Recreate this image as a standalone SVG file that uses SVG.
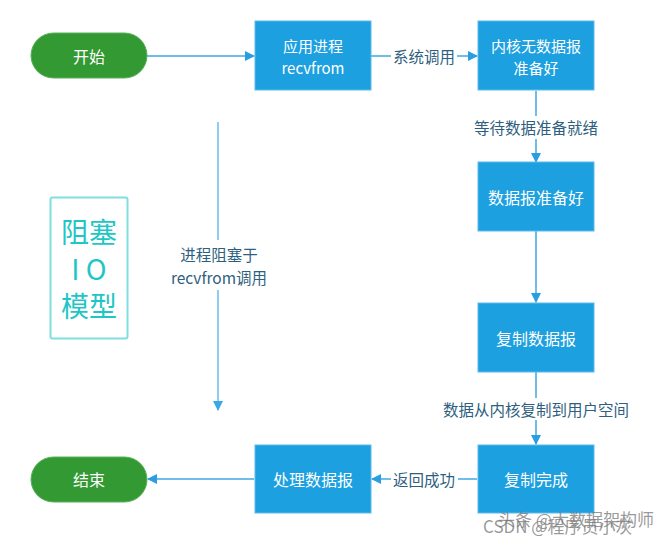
<svg xmlns="http://www.w3.org/2000/svg" width="671" height="541" viewBox="0 0 671 541">
<defs>
<style>
.box{fill:#1ca0e0;stroke:#5cbbea;stroke-width:1}
.pill{fill:#339933;stroke:#5ab25a;stroke-width:1}
.bt{font-family:"Noto Sans CJK SC","Open Sans",sans-serif;font-size:16px;fill:#ffffff;text-anchor:middle;dominant-baseline:central}
.bt2{font-family:"Noto Sans CJK SC","Open Sans",sans-serif;font-size:15px;fill:#ffffff;text-anchor:middle;dominant-baseline:central}
.lbl{font-family:"Noto Sans CJK SC","Open Sans",sans-serif;font-size:15.5px;fill:#2f5f80;text-anchor:middle;dominant-baseline:central}
.tt{font-family:"Noto Sans CJK SC",sans-serif;font-size:28px;fill:#1fc6c6;text-anchor:middle;dominant-baseline:central}
.ln{stroke:#3ea8e2;stroke-width:1.5;fill:none}
.ln2{stroke:#8ccdf0;stroke-width:2;fill:none}
</style>
<marker id="ah" viewBox="0 0 10 10" refX="9" refY="5" markerWidth="10" markerHeight="10" markerUnits="userSpaceOnUse" orient="auto">
<path d="M0,0 L10,5 L0,10 z" fill="#2a9ee0"/>
</marker>
<marker id="ah2" viewBox="0 0 10 10" refX="9" refY="5" markerWidth="10" markerHeight="12" markerUnits="userSpaceOnUse" orient="auto">
<path d="M0,0 L10,5 L0,10 z" fill="#3aa7e6"/>
</marker>
</defs>
<rect width="671" height="541" fill="#ffffff"/>
<g id="connectors">
<line class="ln" x1="147" y1="56" x2="254" y2="56" marker-end="url(#ah)"/>
<line class="ln" x1="371" y1="56" x2="391" y2="56"/>
<line class="ln" x1="457" y1="56" x2="477" y2="56" marker-end="url(#ah)"/>
<line class="ln" x1="536" y1="91" x2="536" y2="116"/>
<line class="ln" x1="536" y1="139" x2="536" y2="162" marker-end="url(#ah)"/>
<line class="ln" x1="536" y1="231" x2="536" y2="302" marker-end="url(#ah)"/>
<line class="ln" x1="536" y1="372" x2="536" y2="398"/>
<line class="ln" x1="536" y1="420" x2="536" y2="444" marker-end="url(#ah)"/>
<line class="ln" x1="477" y1="479" x2="458" y2="479"/>
<line class="ln" x1="391" y1="479" x2="372" y2="479" marker-end="url(#ah)"/>
<line class="ln" x1="254" y1="479" x2="148" y2="479" marker-end="url(#ah)"/>
<line class="ln2" x1="218" y1="122" x2="218" y2="240"/>
<line class="ln2" x1="218" y1="290" x2="218" y2="410" marker-end="url(#ah2)"/>
<text class="lbl" x="424" y="56">系统调用</text>
<text class="lbl" x="536" y="127">等待数据准备就绪</text>
<text class="lbl" x="536" y="409">数据从内核复制到用户空间</text>
<text class="lbl" x="424" y="479">返回成功</text>
<text class="lbl" x="219" y="254">进程阻塞于</text>
<text class="lbl" x="219" y="277">recvfrom调用</text>
</g>
<g id="start">
<rect class="pill" x="31" y="33" width="116" height="45" rx="22.5"/>
<text class="bt" x="89" y="55.5">开始</text>
</g>
<g id="app">
<rect class="box" x="255" y="21" width="116" height="69"/>
<text class="bt2" x="313" y="45">应用进程</text>
<text class="bt2" x="313" y="67">recvfrom</text>
</g>
<g id="kernel-nodata">
<rect class="box" x="478" y="21" width="116" height="69"/>
<text class="bt2" x="536" y="45">内核无数据报</text>
<text class="bt2" x="536" y="67">准备好</text>
</g>
<g id="ready">
<rect class="box" x="478" y="162" width="116" height="69"/>
<text class="bt" x="536" y="197">数据报准备好</text>
</g>
<g id="copy">
<rect class="box" x="478" y="303" width="116" height="69"/>
<text class="bt" x="536" y="338">复制数据报</text>
</g>
<g id="copy-done">
<rect class="box" x="478" y="445" width="116" height="68"/>
<text class="bt" x="536" y="479">复制完成</text>
</g>
<g id="process">
<rect class="box" x="255" y="445" width="116" height="68"/>
<text class="bt" x="313" y="479">处理数据报</text>
</g>
<g id="end">
<rect class="pill" x="31" y="457" width="116" height="45" rx="22.5"/>
<text class="bt" x="89" y="479">结束</text>
</g>
<g id="title">
<rect x="50.5" y="197.5" width="77" height="141" rx="2" fill="none" stroke="#7fdede" stroke-width="2"/>
<text class="tt" x="89" y="231">阻塞</text>
<text class="tt" x="89" y="268">I O</text>
<text class="tt" x="89" y="305">模型</text>
</g>
<g id="watermark" font-family="'Noto Sans CJK SC',sans-serif" font-size="17" fill="#777777" fill-opacity="0.75" text-anchor="start" dominant-baseline="central">
<text x="483" y="525">CSDN @程序员小灰</text>
<text x="498" y="518">头条 @大数据架构师</text>
</g>
</svg>
